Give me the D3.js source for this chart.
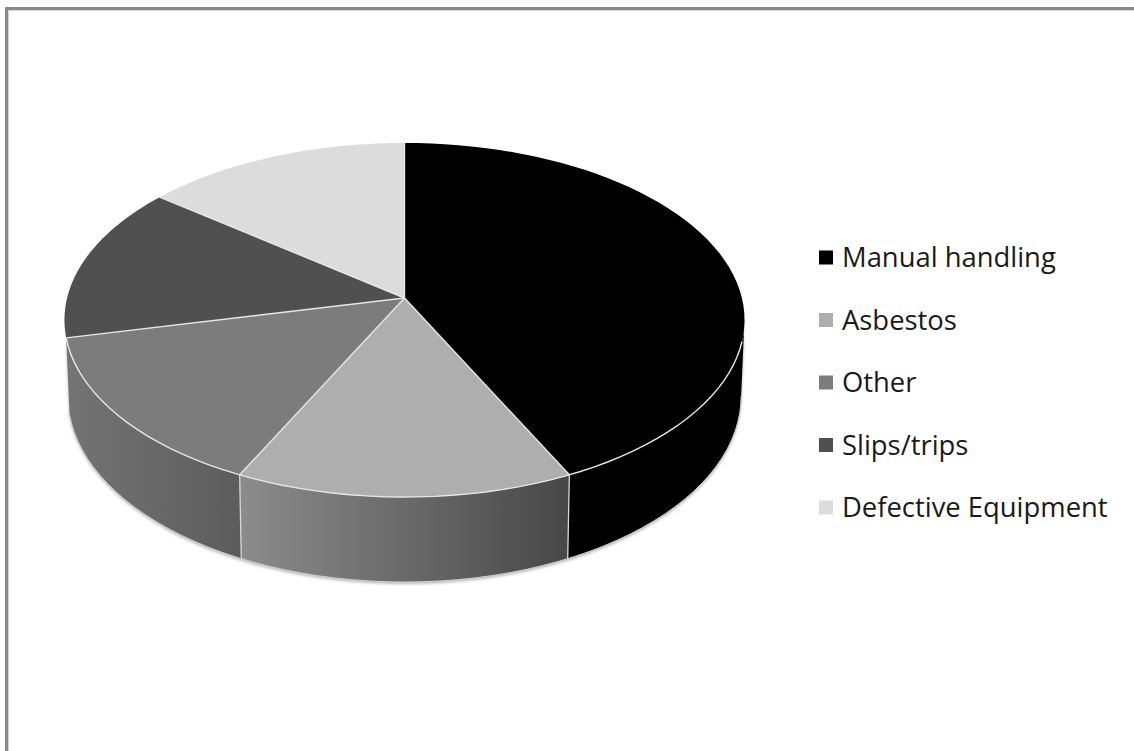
<!DOCTYPE html>
<html>
<head>
<meta charset="utf-8">
<script src="https://cdnjs.cloudflare.com/ajax/libs/d3/7.8.5/d3.min.js"></script>
<style>
body { margin: 0; background: #fff; }
svg { display: block; }
</style>
</head>
<body>
<div id="chart"></div>
<script>
// chart data
var categories = ["Manual handling", "Asbestos", "Other", "Slips/trips", "Defective Equipment"];
var values = [3, 1, 1, 1, 1];
var topColors = ["#000000", "#aeaeae", "#7c7c7c", "#505050", "#dcdcdc"];
// side wall gradient stops, left then right
var sideLeft = ["#000000", "#8c8c8c", "#747474", "#505050", "#dcdcdc"];
var sideRight = ["#000000", "#474747", "#5c5c5c", "#505050", "#dcdcdc"];

var width = 1134, height = 751;

var svg = d3.select("#chart").append("svg")
    .attr("width", width)
    .attr("height", height);

var defs = svg.append("defs");

// soft shadow under the disc
var blur = defs.append("filter").attr("id", "soft")
    .attr("x", "-5%").attr("y", "-5%").attr("width", "110%").attr("height", "110%");
blur.append("feGaussianBlur").attr("stdDeviation", 1.6);

// frame, only left and top sides show in the picture
svg.append("path")
    .attr("d", "M8.5,751V10.5H1134")
    .attr("fill", "none")
    .attr("stroke", "#d4d4d4")
    .attr("stroke-width", 1);
svg.append("path")
    .attr("d", "M6.5,751V8.5H1134")
    .attr("fill", "none")
    .attr("stroke", "#8a8a8a")
    .attr("stroke-width", 3);

// the disc is a tilted circle, so map disc coords to the screen with some perspective
var cx = 404.5, cy = 298;
var persp = 0.1243, scaleX = 337.4, scaleY = 174.3;
var depth = 75, baseScaleX = 0.99, baseScaleY = 1.05;

function project(angle, bottom) {
    var u = Math.sin(angle), v = -Math.cos(angle);
    var w = 1 - persp * v;
    var x = scaleX * u / w, y = scaleY * v / w;
    if (bottom) {
        return [cx + x * baseScaleX, cy + y * baseScaleY + depth];
    }
    return [cx + x, cy + y];
}

var pie = d3.pie().sort(null).value(function(d) { return d; });
var arcs = pie(values);

var line = d3.line();

function rimPoints(a0, a1, bottom) {
    return d3.range(0, 61).map(function(i) {
        return project(a0 + (a1 - a0) * i / 60, bottom);
    });
}

// walls run from the widest point on the right round to the end of the third slice
var frontStart = Math.PI / 2 + Math.asin(persp), frontEnd = arcs[2].endAngle;

function wallPath(a0, a1) {
    var pts = rimPoints(a0, a1, false).concat(rimPoints(a0, a1, true).reverse());
    return line(pts) + "Z";
}

var visible = arcs.map(function(d, i) {
    return {
        i: i,
        a0: Math.max(d.startAngle, frontStart),
        a1: Math.min(d.endAngle, frontEnd)
    };
}).filter(function(d) { return d.a1 > d.a0; });

// shadow
svg.append("path")
    .attr("d", wallPath(frontStart, frontEnd))
    .attr("transform", "translate(0,2)")
    .attr("fill", "#b8b8b8")
    .attr("filter", "url(#soft)");

visible.forEach(function(d) {
    var pts = rimPoints(d.a0, d.a1, false).concat(rimPoints(d.a0, d.a1, true));
    var ext = d3.extent(pts, function(p) { return p[0]; });
    var grad = defs.append("linearGradient")
        .attr("id", "side" + d.i)
        .attr("gradientUnits", "userSpaceOnUse")
        .attr("x1", ext[0]).attr("x2", ext[1])
        .attr("y1", 0).attr("y2", 0);
    grad.append("stop").attr("offset", 0).attr("stop-color", sideLeft[d.i]);
    grad.append("stop").attr("offset", 1).attr("stop-color", sideRight[d.i]);

    svg.append("path")
        .attr("d", wallPath(d.a0, d.a1))
        .attr("fill", "url(#side" + d.i + ")");
});

// light edge along the bottom of the wall
svg.append("path")
    .attr("d", line(rimPoints(frontStart, frontEnd, true)))
    .attr("fill", "none")
    .attr("stroke", "#d0d0d0")
    .attr("stroke-width", 1);

// vertical seams between the walls
arcs.forEach(function(d) {
    if (d.startAngle > frontStart && d.startAngle < frontEnd) {
        svg.append("path")
            .attr("d", line([project(d.startAngle, false), project(d.startAngle, true)]))
            .attr("stroke", "#d8d8d8")
            .attr("stroke-width", 1.3);
    }
});

// top face
svg.selectAll(".slice")
    .data(arcs)
    .enter().append("path")
    .attr("class", "slice")
    .attr("d", function(d) {
        return line([[cx, cy]].concat(rimPoints(d.startAngle, d.endAngle, false))) + "Z";
    })
    .attr("fill", function(d, i) { return topColors[i]; });

// spokes and the front rim in a light line
svg.selectAll(".spoke")
    .data(arcs)
    .enter().append("path")
    .attr("class", "spoke")
    .attr("d", function(d) { return line([[cx, cy], project(d.startAngle, false)]); })
    .attr("stroke", "#e6e6e6")
    .attr("stroke-width", 1.4);

svg.append("path")
    .attr("d", line(rimPoints(frontStart + 0.12, frontEnd, false)))
    .attr("fill", "none")
    .attr("stroke", "#e6e6e6")
    .attr("stroke-width", 1.4);

// legend
var legendY = d3.scalePoint()
    .domain(categories)
    .range([257.5, 507.5]);

var legend = svg.selectAll(".legend")
    .data(categories)
    .enter().append("g")
    .attr("class", "legend")
    .attr("transform", function(d) { return "translate(0," + legendY(d) + ")"; });

legend.append("rect")
    .attr("x", 819).attr("y", -7)
    .attr("width", 14).attr("height", 14)
    .attr("fill", function(d, i) { return topColors[i]; });

legend.append("text")
    .attr("x", 842).attr("y", 9.5)
    .attr("font-family", "'Open Sans', 'Noto Sans', sans-serif")
    .attr("font-size", 27.4)
    .attr("fill", "#1a1a1a")
    .text(function(d) { return d; });
</script>
</body>
</html>
